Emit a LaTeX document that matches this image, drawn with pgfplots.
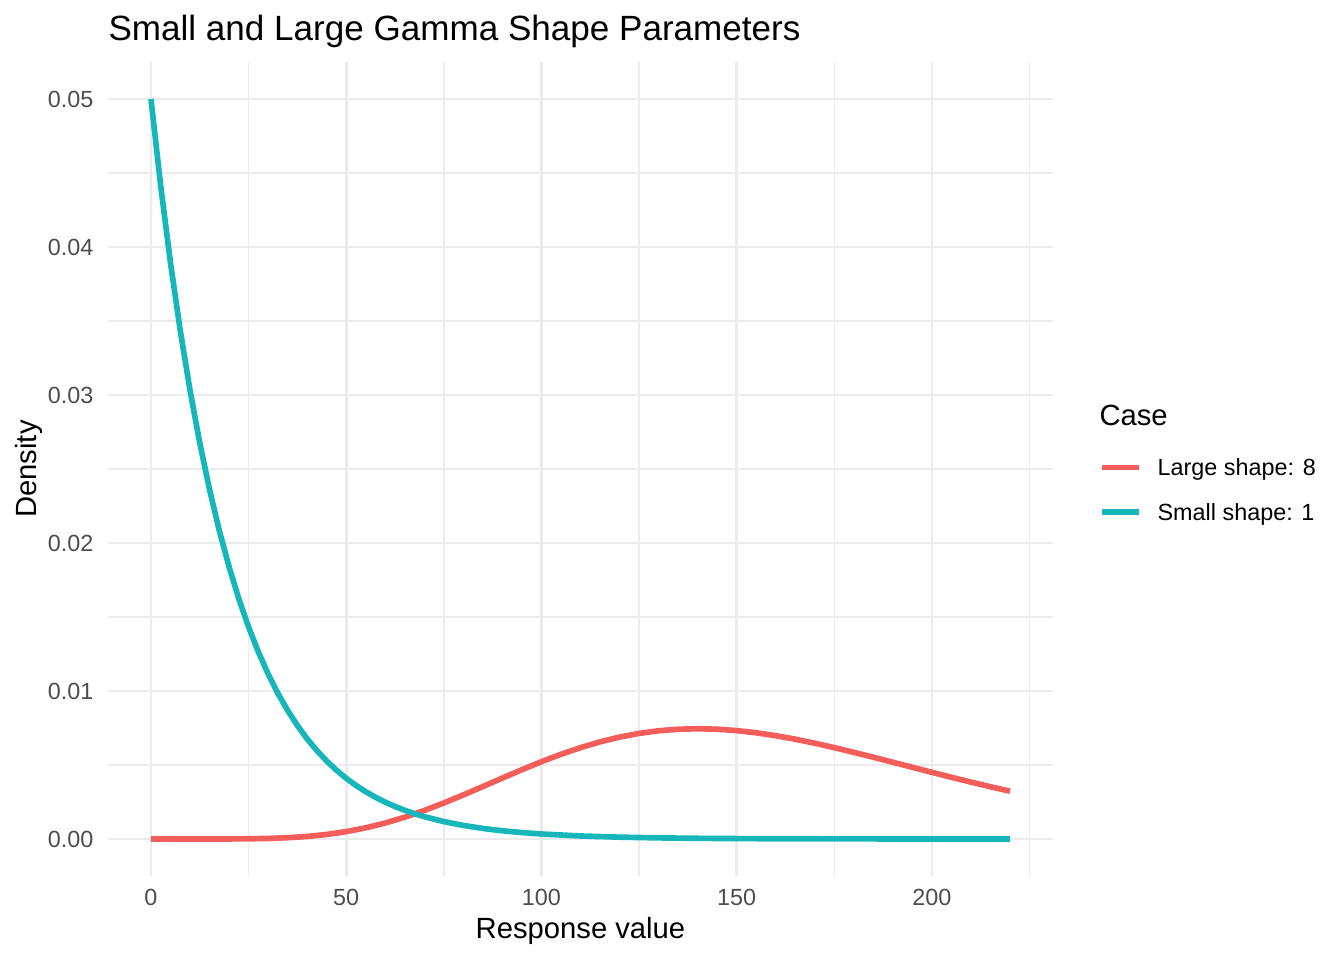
\documentclass[border=0pt]{standalone}
\usepackage{pgfplots}
\pgfplotsset{compat=1.18}
\usepackage{fontspec}
\setmainfont{Liberation Sans}
\definecolor{gridc}{HTML}{EBEBEB}
\definecolor{tickc}{HTML}{4D4D4D}
\definecolor{cred}{HTML}{F35E5A}
\definecolor{cteal}{HTML}{17B6BA}
\begin{document}
\begin{tikzpicture}
\path[use as bounding box] (0,0) rectangle (505.89pt,361.35pt);
\begin{axis}[
  at={(40.65pt,31.62pt)}, anchor=south west,
  scale only axis, width=355.70pt, height=306.39pt,
  xmin=-11, xmax=231, ymin=-0.0025, ymax=0.0525,
  clip mode=individual,
  axis line style={draw=none},
  tick style={draw=none},
  major tick length=0pt, minor tick length=0pt,
  xtick={0,50,100,150,200},
  minor xtick={25,75,125,175,225},
  ytick={0,0.01,0.02,0.03,0.04,0.05},
  yticklabels={0.00,0.01,0.02,0.03,0.04,0.05},
  minor ytick={0.005,0.015,0.025,0.035,0.045},
  scaled y ticks=false, scaled x ticks=false,
  /pgf/number format/assume math mode=true,
  grid=both,
  major grid style={color=gridc, line width=1.07pt},
  minor grid style={color=gridc, line width=0.53pt},
  tick label style={font=\fontsize{8.8pt}{10pt}\selectfont, text=tickc},
  xticklabel style={anchor=base, inner sep=0pt, yshift=-11.29pt},
  yticklabel style={anchor=east, inner sep=0pt, xshift=-5.27pt},
  xlabel={Response value},
  ylabel={Density},
  xlabel style={at={(axis description cs:0.5,-0.0774)}, anchor=base, font=\fontsize{11pt}{13pt}\selectfont},
  ylabel style={at={(axis description cs:-0.07513,0.5)}, anchor=base, font=\fontsize{11pt}{13pt}\selectfont},
  legend style={at={(axis description cs:1.04868,0.5123)}, anchor=north west,
    draw=none, fill=none, inner sep=0pt, outer sep=0pt,
    row sep=10.45pt, column sep=6.02pt,
    font=\fontsize{8.8pt}{10pt}\selectfont,
    nodes={inner sep=0pt, text height=6.4pt, text depth=0pt}},
  legend cell align=left,
  legend image code/.code={\draw[#1, line width=2.13pt] (0pt,0pt) -- (13.93pt,0pt);},
]
\addplot[color=cred, line width=2.13pt, line join=round] coordinates {
(0,0) (10,0.0000000470) (20,0.00000365) (25,0.0000136) (30,0.0000378) (35,0.0000867)
(40,0.0001719) (45,0.0003053) (50,0.000497) (55,0.000754) (60,0.001080) (65,0.001473)
(70,0.001927) (75,0.002433) (80,0.002977) (85,0.003544) (90,0.004118) (95,0.004683)
(100,0.005222) (105,0.005723) (110,0.006173) (115,0.006562) (120,0.006884) (125,0.007135)
(130,0.007312) (135,0.007416) (140,0.007450) (145,0.007418) (150,0.007324) (155,0.007176)
(160,0.006979) (165,0.006742) (170,0.006471) (175,0.006173) (180,0.005856) (185,0.005525)
(190,0.005186) (195,0.004844) (200,0.004504) (205,0.004169) (210,0.003844) (215,0.003530)
(220,0.003229)
};
\addlegendentry{Large shape: 8}
\addplot[color=cteal, line width=2.13pt, line join=round] coordinates {
(0,0.05) (2.5,0.044125) (5,0.038940) (7.5,0.034364) (10,0.030327) (12.5,0.026763)
(15,0.023618) (17.5,0.020843) (20,0.018394) (22.5,0.016233) (25,0.014325) (27.5,0.012642)
(30,0.011157) (32.5,0.009846) (35,0.008689) (37.5,0.007668) (40,0.006767) (42.5,0.005972)
(45,0.005270) (47.5,0.004651) (50,0.004104) (52.5,0.003622) (55,0.003196) (57.5,0.002821)
(60,0.002489) (62.5,0.002197) (65,0.001939) (67.5,0.001711) (70,0.001510) (75,0.001176)
(80,0.000916) (85,0.000713) (90,0.000555) (95,0.000433) (100,0.000337) (110,0.000204)
(120,0.000124) (130,0.0000752) (140,0.0000456) (150,0.0000277) (160,0.0000168)
(180,0.0000062) (200,0.0000023) (220,0.0000008)
};
\addlegendentry{Small shape: 1}
\node[anchor=base west, inner sep=0pt, font=\fontsize{13.2pt}{15pt}\selectfont] at (axis description cs:0,1.02703) {Small and Large Gamma Shape Parameters};
\node[anchor=base west, inner sep=0pt, font=\fontsize{11pt}{13pt}\selectfont] at (axis description cs:1.04868,0.55283) {Case};
\end{axis}
\end{tikzpicture}
\end{document}
